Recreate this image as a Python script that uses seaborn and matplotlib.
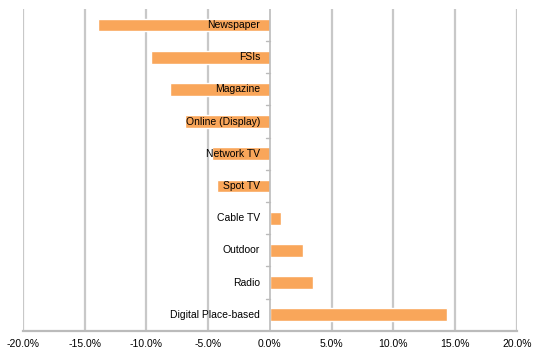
import matplotlib
matplotlib.use("Agg")
import matplotlib.pyplot as plt
import matplotlib.ticker as mticker
import seaborn as sns
import numpy as np

# Daten
categories = ["Newspaper", "FSIs", "Magazine", "Online (Display)", "Network TV",
              "Spot TV", "Cable TV", "Outdoor", "Radio", "Digital Place-based"]
changes = [-13.9, -9.6, -8.1, -6.9, -4.7, -4.3, 0.9, 2.7, 3.5, 14.3]
x_ticks = [-20, -15, -10, -5, 0, 5, 10, 15, 20]

sns.set_theme(style="white")
plt.rcParams["font.family"] = ["Liberation Sans", "DejaVu Sans"]

fig = plt.figure(figsize=(5.43, 3.55), dpi=100)
ax = fig.add_axes([0.042, 0.068, 0.91, 0.907])

sns.barplot(x=changes, y=categories, orient="h", color="#F9A65A",
            saturation=1, width=0.4, ax=ax)

ax.set_xlim(-20, 20)
ax.set_ylim(len(categories) - 0.5, -0.5)
ax.set_xticks(x_ticks)
ax.xaxis.set_major_formatter(mticker.FuncFormatter(lambda v, p: f"{v:.1f}%"))
ax.tick_params(axis="x", labelsize=7.5, colors="#000000", length=4,
               width=1, direction="out", color="#BBBBBB", pad=2)

# Gitterlinien
ax.set_axisbelow(True)
for t in x_ticks:
    if t != 0:
        ax.axvline(t, color="#C8C8C8", lw=1.6, zorder=0)

for side in ["top", "right", "left"]:
    ax.spines[side].set_visible(False)
ax.spines["bottom"].set_color("#BBBBBB")
ax.spines["bottom"].set_linewidth(1.6)

# y-Achse bei 0
ax.axvline(0, color="#BBBBBB", lw=1.2, zorder=3)
ax.set_yticks([])
for b in np.arange(0.5, len(categories) - 0.5, 1.0):
    ax.plot([-0.3, 0], [b, b], color="#BBBBBB", lw=1, zorder=3, clip_on=False)

# Beschriftungen links von der Achse
for i, name in enumerate(categories):
    ax.annotate(name, xy=(0, i), xytext=(-7, 0), textcoords="offset points",
                ha="right", va="center", fontsize=7.5, color="#000000", zorder=4)

ax.set_xlabel("")
ax.set_ylabel("")

plt.savefig("out.png", dpi=100)
